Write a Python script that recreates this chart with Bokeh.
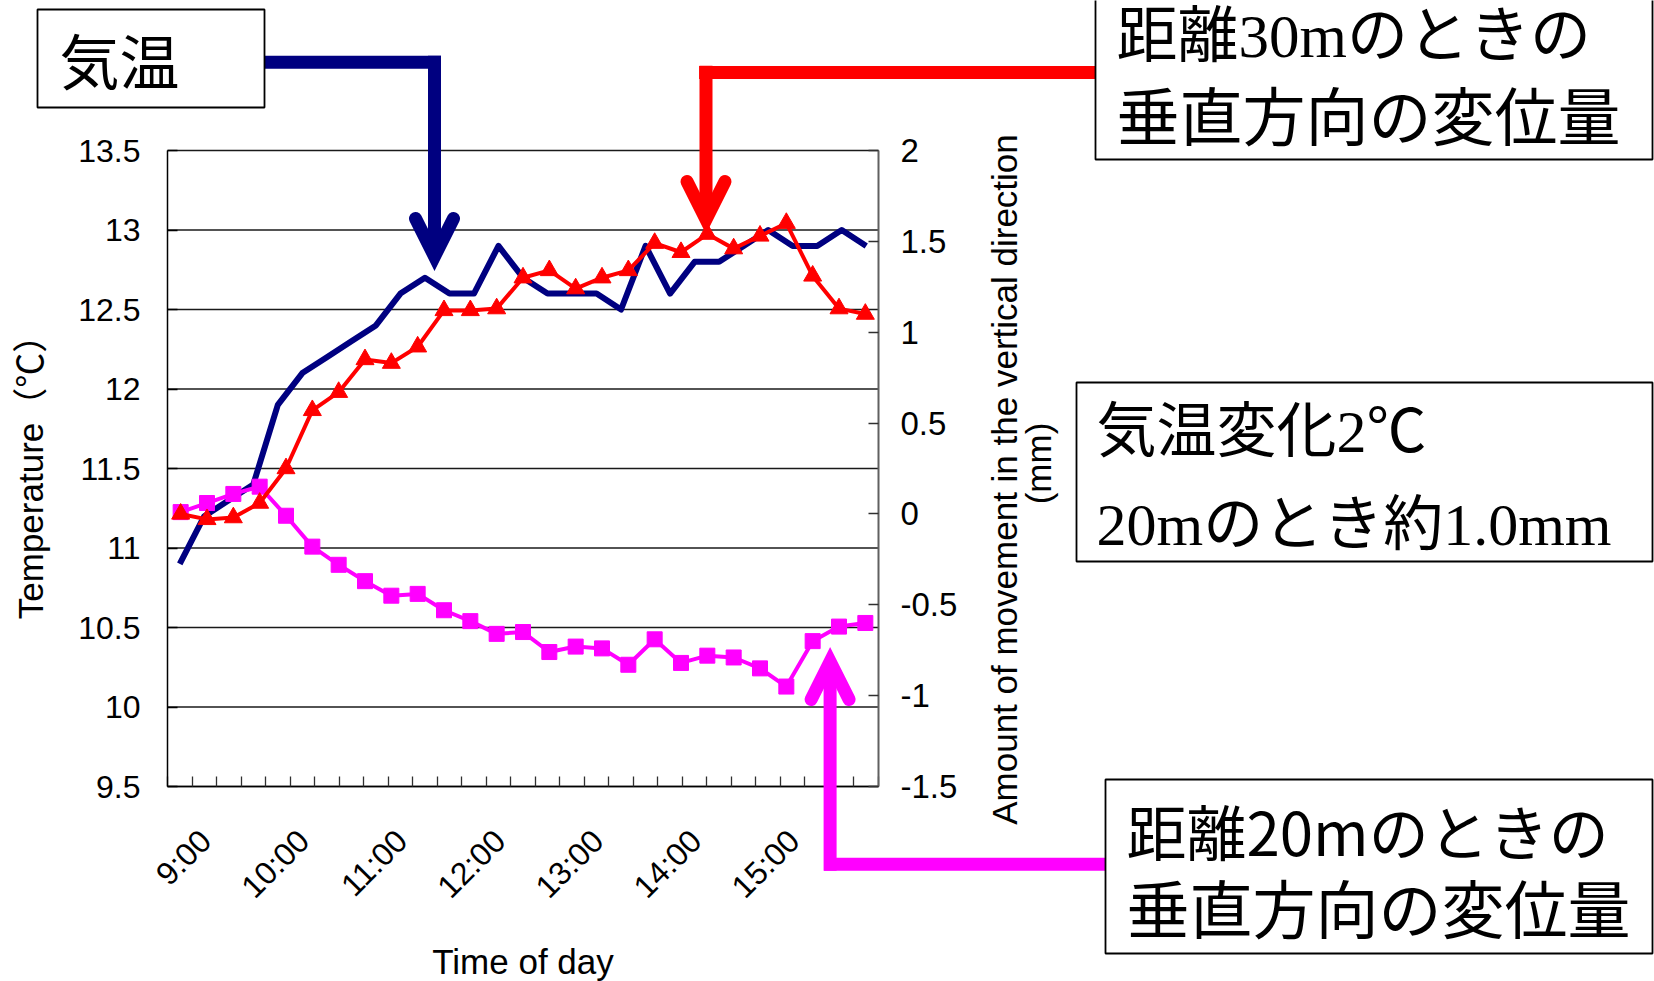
import math
from bokeh.plotting import figure
from bokeh.models import (Range1d, LinearAxis, FixedTicker, NumeralTickFormatter,
                          CustomJSTickFormatter, Label, Arrow, OpenHead, PolyAnnotation)
from bokeh.embed import file_html
from bokeh.resources import INLINE

# ---------------- data ----------------
times = ["9:00", "9:15", "9:30", "9:45", "10:00", "10:15", "10:30", "10:45",
         "11:00", "11:15", "11:30", "11:45", "12:00", "12:15", "12:30", "12:45",
         "13:00", "13:15", "13:30", "13:45", "14:00", "14:15", "14:30", "14:45",
         "15:00", "15:15", "15:30", "15:45", "16:00"]
temperature = [10.9, 11.2, 11.3, 11.4, 11.9, 12.1, 12.2, 12.3, 12.4, 12.6,
               12.7, 12.6, 12.6, 12.9, 12.7, 12.6, 12.6, 12.6, 12.5, 12.9,
               12.6, 12.8, 12.8, 12.9, 13.0, 12.9, 12.9, 13.0, 12.9]
disp_30m = [0.00, -0.03, -0.02, 0.06, 0.25, 0.57, 0.67, 0.85, 0.83, 0.92,
            1.12, 1.12, 1.13, 1.30, 1.34, 1.24, 1.30, 1.34, 1.49, 1.44,
            1.54, 1.46, 1.53, 1.60, 1.31, 1.13, 1.10]
disp_20m = [0.01, 0.06, 0.11, 0.15, -0.01, -0.18, -0.28, -0.37, -0.45, -0.44,
            -0.53, -0.59, -0.66, -0.65, -0.76, -0.73, -0.74, -0.83, -0.69, -0.82,
            -0.78, -0.79, -0.85, -0.95, -0.70, -0.62, -0.60]
x_label_text = ["9:00", "10:00", "11:00", "12:00", "13:00", "14:00", "15:00"]
temp_ticks = [9.5, 10, 10.5, 11, 11.5, 12, 12.5, 13, 13.5]
disp_ticks = [-1.5, -1, -0.5, 0, 0.5, 1, 1.5, 2]

# ---------------- layout constants (canvas pixels) ----------------
W, H = 1654, 981
FL, FR, FT, FB = 167, 878, 150, 786   # inner plot area

SANS = "Liberation Sans, Noto Sans CJK JP"
JP = "Noto Sans CJK JP"
SERIF_JP = "Liberation Serif, Noto Sans CJK JP"
NAVY, RED, MAGENTA = "#000080", "#FF0000", "#FF00FF"

n_t = len(times)
n_d = len(disp_30m)
t0, t1 = temp_ticks[0], temp_ticks[-1]
d0, d1 = disp_ticks[0], disp_ticks[-1]

# ranges spanning the whole canvas so the inner plot area lands at FL..FR / FT..FB
px_x = (FR - FL) / n_t
px_d = (FR - FL) / n_d
px_t = (FB - FT) / (t1 - t0)
px_m = (FB - FT) / (d1 - d0)

p = figure(width=W, height=H, output_backend="svg", toolbar_location=None,
           x_range=Range1d(-FL / px_x, n_t + (W - FR) / px_x),
           y_range=Range1d(t0 - (H - FB) / px_t, t1 + FT / px_t),
           x_axis_type=None, y_axis_type=None,
           min_border_left=0, min_border_right=0, min_border_top=0, min_border_bottom=0)
p.background_fill_color = "white"
p.border_fill_color = "white"
p.outline_line_color = None
p.extra_x_ranges = {"disp": Range1d(-FL / px_d, n_d + (W - FR) / px_d)}
p.extra_y_ranges = {"mm": Range1d(d0 - (H - FB) / px_m, d1 + FT / px_m)}

# horizontal gridlines (left-axis ticks) across the plot area
p.segment(x0=[0] * len(temp_ticks), x1=[n_t] * len(temp_ticks), y0=temp_ticks, y1=temp_ticks,
          line_color="#1a1a1a", line_width=1.5)

# left axis
yl = LinearAxis(ticker=FixedTicker(ticks=temp_ticks), fixed_location=0, bounds=(t0, t1),
                formatter=NumeralTickFormatter(format="0.[0]"),
                major_tick_in=10, major_tick_out=0, minor_tick_line_color=None,
                major_tick_line_width=1.5, axis_line_width=1.5, axis_line_color="black",
                major_label_standoff=27,
                major_label_text_font=SANS, major_label_text_font_size="32px",
                major_label_text_color="black",
                axis_label="Temperature（℃）", axis_label_text_font=SANS,
                axis_label_text_font_size="35px", axis_label_text_font_style="normal",
                axis_label_text_color="black", axis_label_standoff=25)
p.add_layout(yl, "left")

# right axis
yr = LinearAxis(y_range_name="mm", ticker=FixedTicker(ticks=disp_ticks),
                fixed_location=n_t, bounds=(d0, d1),
                formatter=NumeralTickFormatter(format="0.[0]"),
                major_tick_in=10, major_tick_out=0, minor_tick_line_color=None,
                major_tick_line_width=1.5, axis_line_width=2, axis_line_color="#606060",
                major_tick_line_color="#303030",
                major_label_standoff=22,
                major_label_text_font=SANS, major_label_text_font_size="33px",
                major_label_text_color="black")
p.add_layout(yr, "right")

# bottom axis
lab_idx = [times.index(t) for t in x_label_text]
lab_pos = [round(i + 0.5 + 1.05, 3) for i in lab_idx]
fmt = CustomJSTickFormatter(args=dict(pos=lab_pos, labs=x_label_text), code="""
let best = -1;
for (let k = 0; k < pos.length; k++) { if (Math.abs(pos[k] - tick) < 1e-6) { best = k; } }
return best >= 0 ? labs[best] : "";
""")
xb = LinearAxis(ticker=FixedTicker(ticks=lab_pos, minor_ticks=list(range(0, n_t + 1))),
                fixed_location=t0, bounds=(0, n_t),
                formatter=fmt, major_label_orientation=math.pi / 4,
                major_tick_in=0, major_tick_out=0, major_tick_line_color=None,
                minor_tick_in=10, minor_tick_out=0, minor_tick_line_color="#303030",
                minor_tick_line_width=1.3,
                axis_line_color="black", axis_line_width=1.5,
                major_label_standoff=49,
                major_label_text_font=SANS, major_label_text_font_size="32px",
                major_label_text_color="black",
                axis_label="Time of day", axis_label_text_font=SANS,
                axis_label_text_font_size="35px", axis_label_text_font_style="normal",
                axis_label_text_color="black", axis_label_standoff=21)
p.add_layout(xb, "below")

# ---------------- series ----------------
tx = [i + 0.5 for i in range(n_t)]
dx = [j + 0.5 for j in range(n_d)]

p.line(tx, temperature, line_color=NAVY, line_width=6, line_join="round")
p.line(dx, disp_20m, x_range_name="disp", y_range_name="mm",
       line_color=MAGENTA, line_width=4, line_join="round")
p.scatter(dx, disp_20m, x_range_name="disp", y_range_name="mm", marker="square",
          size=15, fill_color=MAGENTA, line_color=MAGENTA)
p.line(dx, disp_30m, x_range_name="disp", y_range_name="mm",
       line_color=RED, line_width=4, line_join="round")
p.scatter(dx, disp_30m, x_range_name="disp", y_range_name="mm", marker="triangle",
          size=18, fill_color=RED, line_color=RED)

# ---------------- annotations (screen units; frame == canvas) ----------------
def sx(cx):
    return cx


def sy(cy):
    return H - cy


def seg(x0, y0, x1, y1, color, head=False):
    end = None
    if head:
        end = OpenHead(size=38, line_color=color, line_width=13,
                       line_cap="round", line_join="miter")
    p.add_layout(Arrow(x_start=sx(x0), y_start=sy(y0), x_end=sx(x1), y_end=sy(y1),
                       start_units="screen", end_units="screen", start=None, end=end,
                       line_color=color, line_width=13, line_cap="butt"))


# blue arrow (気温)
seg(264, 61.7, 440.5, 61.7, NAVY)
seg(434, 55.2, 434, 256, NAVY, head=True)
# red arrow (30m)
seg(1095, 72, 698.6, 72, RED)
seg(705.5, 65.2, 705.5, 219, RED, head=True)
# magenta arrow (20m)
seg(1105, 863.7, 823.5, 863.7, MAGENTA)
seg(829.6, 870.2, 829.6, 661, MAGENTA, head=True)


def box(l, t, r, b):
    p.add_layout(PolyAnnotation(xs=[sx(l), sx(r), sx(r), sx(l)],
                                ys=[sy(t), sy(t), sy(b), sy(b)],
                                xs_units="screen", ys_units="screen",
                                fill_color="white", fill_alpha=1.0,
                                line_color="black", line_alpha=1.0, line_width=1.8))


def txt(x, y, s, font, size, align="left", angle=0):
    p.add_layout(Label(x=sx(x), y=sy(y), x_units="screen", y_units="screen", text=s,
                       text_font=font, text_font_size=size, text_color="black",
                       text_align=align, text_baseline="middle", angle=angle))


box(37, 9, 264, 107)
txt(59, 58, "気温", JP, "60px")

box(1095, -2, 1652, 159)
txt(1116, 36, "距離30mのときの", SERIF_JP, "61px")
txt(1116, 112, "垂直方向の変位量", JP, "63px")

box(1076, 382, 1652, 561)
txt(1096, 431, "気温変化2℃", SERIF_JP, "60px")
txt(1096, 524, "20mのとき約1.0mm", SERIF_JP, "60px")

box(1105, 779, 1652, 953)
txt(1126, 829, "距離20mのときの", JP, "60px")
txt(1126, 905, "垂直方向の変位量", JP, "63px")

# right axis title (two lines)
txt(1004, 479, "Amount of movement in the vertical direction", SANS, "35px",
    align="center", angle=math.pi / 2)
txt(1038, 463, "(mm)", SANS, "35px", align="center", angle=math.pi / 2)

open("out.html", "w").write(file_html(p, INLINE))
